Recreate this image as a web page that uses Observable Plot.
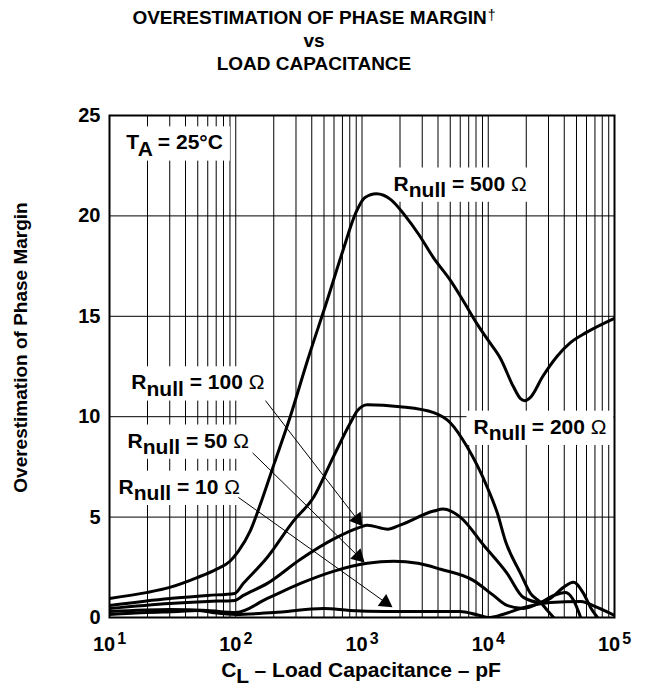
<!DOCTYPE html>
<html>
<head>
<meta charset="utf-8">
<script src="https://cdn.jsdelivr.net/npm/d3@7"></script>
<script src="https://cdn.jsdelivr.net/npm/@observablehq/plot@0.6"></script>
<style>
  body { margin: 0; background: #fff; }
  #wrap { position: relative; width: 647px; height: 687px; overflow: hidden;
          font-family: "Liberation Sans", Arial, Helvetica, sans-serif; font-weight: bold; color: #000; }
  .ttl { position: absolute; left: 0; width: 628px; text-align: center; font-size: 19px; line-height: 23px; white-space: nowrap; }
  .dag { font-size: 14px; font-weight: normal; position: relative; top: -4px; margin-left: 1px; }
  .xlab { position: absolute; left: 161px; width: 400px; top: 658px; text-align: center; font-size: 21px; line-height: 23px; white-space: nowrap; }
  .ylab { position: absolute; left: -180px; width: 400px; top: 336px; text-align: center; font-size: 19px; line-height: 23px; white-space: nowrap; transform: rotate(-90deg); transform-origin: 200px 11.5px; }
  .sub { position: relative; top: 6px; }
</style>
</head>
<body>
<div id="wrap">
  <div class="ttl" style="top:6px">OVERESTIMATION OF PHASE MARGIN<span class="dag">†</span></div>
  <div class="ttl" style="top:29px">vs</div>
  <div class="ttl" style="top:52px">LOAD CAPACITANCE</div>
  <div class="xlab">C<span class="sub">L</span> – Load Capacitance – pF</div>
  <div class="ylab">Overestimation of Phase Margin</div>
</div>
<script>
// ---- axis ticks ----
const xTicks = [10, 100, 1000, 10000, 100000];
const yTicks = [0, 5, 10, 15, 20, 25];
const gridY = [5, 10, 15, 20];
const gridMultipliers = [2, 3, 4, 5, 6, 7, 8, 9, 10];
const gridDecades = [10, 100, 1000, 10000];

// ---- series: [load capacitance pF, overestimation of phase margin] ----
const rnull500 = [[10,0.95],[20,1.25],[30,1.5],[50,2.0],[70,2.4],[90,2.8],[105,3.3],[130,4.3],[160,5.8],[200,7.6],[270,10.0],[370,12.8],[530,15.8],[700,18.2],[900,20.2],[1050,20.9],[1300,21.1],[1700,20.8],[2200,20.0],[2800,19.1],[3700,17.9],[5000,16.8],[6300,15.8],[8200,14.6],[10000,13.8],[12500,12.9],[15800,11.5],[18000,10.9],[19500,10.8],[21500,10.95],[27000,12.0],[35000,13.0],[45000,13.7],[60000,14.2],[100000,14.9]];
const rnull200 = [[10,0.6],[30,0.95],[60,1.1],[98,1.2],[115,1.7],[178,3.0],[286,4.8],[415,6.0],[593,8.0],[810,9.7],[920,10.3],[1100,10.6],[2000,10.5],[3700,10.2],[5000,9.7],[6800,8.5],[9800,6.5],[11800,5.2],[13700,3.8],[18000,2.2],[21600,1.2],[26000,0.75],[29400,0.35],[33000,0]];
const rnull100 = [[10,0.45],[30,0.7],[60,0.8],[98,0.85],[115,1.1],[178,1.7],[326,2.9],[593,3.9],[970,4.5],[1100,4.6],[1600,4.4],[2000,4.6],[3700,5.3],[4400,5.4],[6000,5.0],[9200,3.6],[14100,2.2],[19000,1.0],[26000,0.75],[31000,0.95],[39400,1.5],[47300,1.75],[56800,1.2],[64600,0.5],[73300,0]];
const rnull50 = [[10,0.3],[30,0.4],[60,0.35],[100,0.25],[178,0.95],[326,1.7],[593,2.3],[1100,2.7],[1780,2.8],[2770,2.7],[4200,2.4],[7600,1.85],[11000,1.1],[14100,0.6],[19000,0.45],[26000,0.75],[33000,1.1],[41000,1.25],[47000,0.9],[54000,0]];
const rnull10 = [[10,0.15],[20,0.25],[35,0.3],[50,0.35],[65,0.25],[100,0.15],[200,0.25],[500,0.45],[800,0.35],[1500,0.3],[3000,0.3],[6000,0.3],[8000,0.15],[10000,0],[13000,0.15],[18000,0.45],[31000,0.75],[54000,0.8],[73000,0.5],[100000,0.1]];
const seriesList = [rnull500, rnull200, rnull100, rnull50, rnull10];

// ---- annotations ----
const labelText = ["T_A_ = 25°C", "R_null_ = 500 Ω", "R_null_ = 200 Ω", "R_null_ = 100 Ω", "R_null_ = 50 Ω", "R_null_ = 10 Ω"];
const labelC    = [13.6, 1780, 7640, 14.9, 13.9, 11.8];
const labelPM   = [23.65, 21.6, 9.49, 11.7, 8.8, 6.5];

const arrowFromC  = [172, 136, 105];
const arrowFromPM = [10.8, 8.2, 5.98];
const arrowToC    = [920, 937, 1535];
const arrowToPM   = [4.88, 3.04, 0.75];
const arrowAngle  = [142, 134, 125];

// ---- build tables ----
const gridX = [];
for (const d of gridDecades) for (const m of gridMultipliers) gridX.push(d * m);
const gridXinner = gridX.filter(v => v < 100000);
const lines = seriesList.flatMap((s, k) => s.map(([c, v]) => ({c, v, k})));
const labels = labelText.map((t, i) => ({t, c: labelC[i], v: labelPM[i]}));
const arrows = arrowFromC.map((c, i) => ({c1: c, v1: arrowFromPM[i], c2: arrowToC[i], v2: arrowToPM[i], a: arrowAngle[i]}));

const svg = Plot.plot({
  width: 647, height: 687,
  marginTop: 115, marginBottom: 70, marginLeft: 109, marginRight: 33,
  style: {fontFamily: '"Liberation Sans", Arial, Helvetica, sans-serif', fontWeight: "bold", fontSize: "20px", background: "transparent", color: "black"},
  x: {type: "log", domain: [10, 100000]},
  y: {domain: [0, 25]},
  marks: [
    Plot.ruleX(gridXinner, {stroke: "black", strokeWidth: 1, strokeOpacity: 1}),
    Plot.ruleY(gridY, {stroke: "black", strokeWidth: 1, strokeOpacity: 1}),
    Plot.line(lines, {x: "c", y: "v", z: "k", stroke: "black", strokeWidth: 3, curve: "monotone-x", clip: true}),
    Plot.link(arrows, {x1: "c1", y1: "v1", x2: "c2", y2: "v2", stroke: "black", strokeWidth: 1}),
    Plot.dot(arrows, {x: "c2", y: "v2", symbol: "triangle", r: 5.5, fill: "black", stroke: null, rotate: "a"}),
    Plot.text(labels, {x: "c", y: "v", text: "t", textAnchor: "start", fontSize: 21, fontWeight: "bold", fill: "black"}),
    Plot.frame({stroke: "black", strokeWidth: 2}),
    Plot.axisX(xTicks, {anchor: "bottom", tickSize: 0, tickPadding: 19, label: null, tickFormat: d => "10^" + Math.round(Math.log10(d))}),
    Plot.axisY(yTicks, {anchor: "left", tickSize: 0, tickPadding: 9, label: null})
  ]
});
svg.style.position = "absolute";
svg.style.left = "0px";
svg.style.top = "0px";
const wrap = document.getElementById("wrap");
wrap.insertBefore(svg, wrap.firstChild);

const NS = "http://www.w3.org/2000/svg";
function richify(t) {
  const s = t.textContent;
  if (!s.includes("_") && !s.includes("^")) return;
  while (t.firstChild) t.removeChild(t.firstChild);
  let mode = 0, buf = "", shiftPx = 0;
  const fs = parseFloat(getComputedStyle(t).fontSize) || 20;
  const flush = () => {
    if (!buf) return;
    const targetPx = mode === 1 ? 0.3 * fs : mode === 2 ? -0.36 * fs : 0;
    buf.split(/(Ω)/).forEach(seg => {
      if (!seg) return;
      const ts = document.createElementNS(NS, "tspan");
      const dy = +(targetPx - shiftPx).toFixed(2);
      if (dy) ts.setAttribute("dy", dy);
      shiftPx = targetPx;
      if (seg === "Ω") ts.setAttribute("font-weight", "normal");
      if (mode === 2) { ts.setAttribute("dx", "2"); ts.setAttribute("font-size", "16"); }
      ts.textContent = seg;
      t.appendChild(ts);
    });
    buf = "";
  };
  for (const ch of s) {
    if (ch === "_") { flush(); mode = mode === 1 ? 0 : 1; }
    else if (ch === "^") { flush(); mode = 2; }
    else buf += ch;
  }
  flush();
}
svg.querySelectorAll("text").forEach(richify);

// white boxes behind the in-plot labels
const sr = svg.getBoundingClientRect();
const textGroup = svg.querySelector('g[aria-label="text"]');
const lineGroup = svg.querySelector('g[aria-label="line"]');
const boxG = document.createElementNS(NS, "g");
boxG.setAttribute("aria-label", "label-boxes");
if (textGroup) {
  textGroup.querySelectorAll("text").forEach(t => {
    const r = t.getBoundingClientRect();
    const rect = document.createElementNS(NS, "rect");
    rect.setAttribute("x", r.left - sr.left - 7);
    rect.setAttribute("y", r.top - sr.top - 4);
    rect.setAttribute("width", r.width + 14);
    rect.setAttribute("height", r.height + 5);
    rect.setAttribute("fill", "white");
    boxG.appendChild(rect);
  });
}
if (lineGroup) svg.insertBefore(boxG, lineGroup); else svg.appendChild(boxG);
</script>
</body>
</html>
